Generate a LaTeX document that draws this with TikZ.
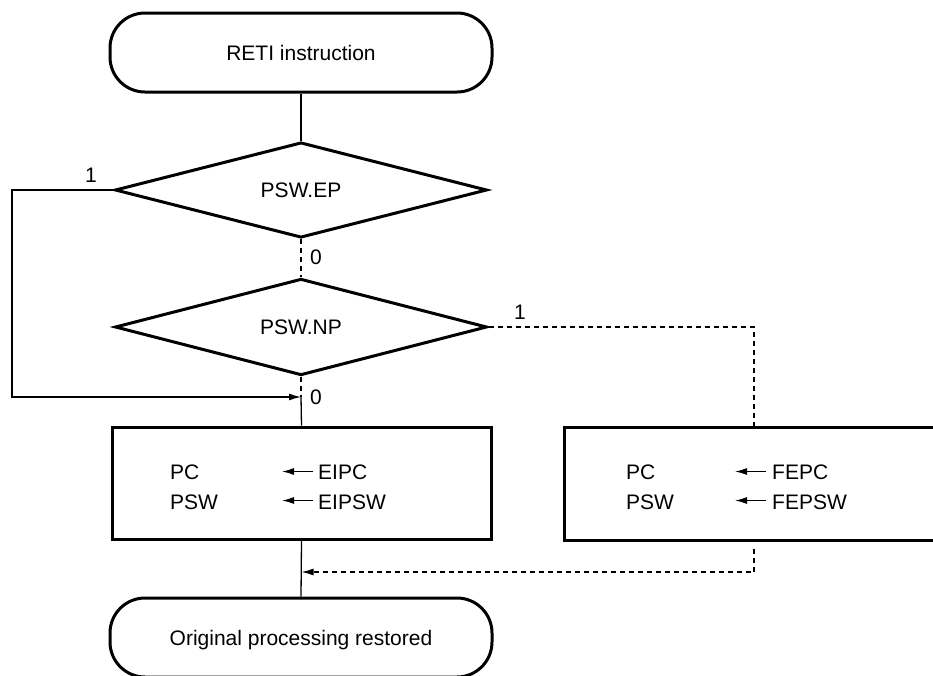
\documentclass[tikz,border=0pt]{standalone}
\usepackage{fontspec}
\setmainfont{Liberation Sans}
\usetikzlibrary{shapes.geometric,arrows.meta}
\begin{document}
\begin{tikzpicture}[x=1pt,y=-1pt,
  every node/.style={font=\fontsize{21}{25}\selectfont, inner sep=0pt},
  shapeline/.style={draw, line width=3pt},
  terminal/.style={shapeline, rectangle, rounded corners=35pt, minimum width=382pt, minimum height=79pt, text depth=0pt},
  decision/.style={shapeline, diamond, minimum width=372pt, minimum height=80pt},
  procbox/.style={shapeline, rectangle},
  conn/.style={line width=1.3pt},
  dconn/.style={conn, dash pattern=on 5pt off 4pt},
  tip/.style={-{Latex[length=12pt,width=7pt]}},
  lbl/.style={anchor=base west}]
\clip (0,0) rectangle (933,675);
\useasboundingbox (0,0) rectangle (933,675);

\node[terminal] (start) at (301,52.5) {RETI instruction};
\node[decision] (ep) at (301,190) {PSW.EP};
\node[decision] (np) at (301,327) {PSW.NP};
\node[procbox, minimum width=379pt, minimum height=112pt] (lbox) at (301.5,483) {};
\node[procbox, minimum width=420pt, minimum height=113pt] (rbox) at (774,483.5) {};
\node[terminal] (end) at (301,637.5) {Original processing restored};

% labels
\node (l1) at (91,175) {1};
\node (l0a) at (316,257) {0};
\node (l0b) at (316,397) {0};
\node (l1b) at (520,312) {1};

% left box text
\node[lbl] (pca) at (170,479) {PC};
\node[lbl] (psa) at (170,509) {PSW};
\node[lbl] (eipc) at (318,479) {EIPC};
\node[lbl] (eipsw) at (318,509) {EIPSW};
\coordinate (a1s) at (313,471.5);
\coordinate (a1e) at (282,471.5);
\coordinate (a2s) at (313,500.5);
\coordinate (a2e) at (282,500.5);
\draw[conn,tip] (a1s) -- (a1e);
\draw[conn,tip] (a2s) -- (a2e);

% right box text
\node[lbl] (pcb) at (626,479) {PC};
\node[lbl] (psb) at (626,509) {PSW};
\node[lbl] (fepc) at (772,479) {FEPC};
\node[lbl] (fepsw) at (772,509) {FEPSW};
\coordinate (b1s) at (766,471.5);
\coordinate (b1e) at (735,471.5);
\coordinate (b2s) at (766,500.5);
\coordinate (b2e) at (735,500.5);
\draw[conn,tip] (b1s) -- (b1e);
\draw[conn,tip] (b2s) -- (b2e);

% connectors
\coordinate (j) at (301,397);
\coordinate (c1) at (12,397);
\coordinate (c2) at (754,327);
\coordinate (c3) at (754,572);
\coordinate (j2) at (301.5,572);

\draw[conn] (start.south) -- (ep.north);
\draw[dconn] (ep.south) -- (np.north);
\draw[dconn] (np.south) -- (j);
\draw[conn] (j) -- (lbox.north);
\draw[conn,tip] (ep.west) -| (c1) -- (j);
\draw[dconn] (np.east) -- (c2) -- (c2 |- rbox.north);
\draw[conn] (lbox.south) -- (end.north);
\draw[dconn,tip] ([yshift=-7pt]c2 |- rbox.south) -- (c3) -- (j2);
\end{tikzpicture}
\end{document}
